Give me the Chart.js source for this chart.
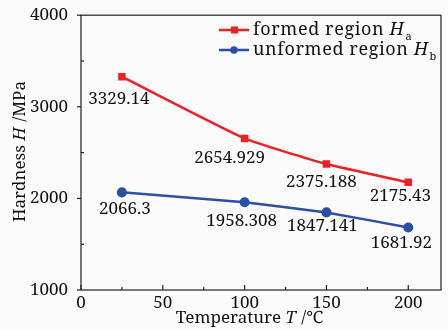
<!DOCTYPE html>
<html>
<head>
<meta charset="utf-8">
<script src="https://cdn.jsdelivr.net/npm/chart.js@4"></script>
<style>
  html, body { margin: 0; padding: 0; background: #fafafa; }
  #wrap { width: 448px; height: 330px; }
</style>
</head>
<body>
<div id="wrap"><canvas id="hardChart"></canvas></div>
<script>
// hardness vs temperature

const temps = [25, 100, 150, 200];
const formedHa = [3329.14, 2654.929, 2375.188, 2175.43];
const unformedHb = [2066.3, 1958.308, 1847.141, 1681.92];
const formedLabels = ['3329.14', '2654.929', '2375.188', '2175.43'];
const unformedLabels = ['2066.3', '1958.308', '1847.141', '1681.92'];
const xTicks = [0, 50, 100, 150, 200];
const yTicks = [1000, 2000, 3000, 4000];

const RED = '#ee2024';
const BLUE = '#2c4fa3';
const FONT = '"Noto Serif", "Liberation Serif", serif';
const FS = 17;

// label offsets from the point (px), by series
const labelOffsets = [
  [[-3, 23], [-15, 20], [-5, 18], [-8, 14]],
  [[3, 17], [-3, 19], [-4, 14], [-7, 16]]
];

// draws text made of [string, italic, sub] pieces starting at x
function richText(ctx, parts, x, y, size) {
  parts.forEach(([s, it, sub]) => {
    const fs = sub ? Math.round(size * 0.6) : size;
    ctx.font = (it ? 'italic ' : '') + fs + 'px ' + FONT;
    ctx.fillText(s, x, sub ? y + 7 : y);
    x += ctx.measureText(s).width + (it ? 1 : 0);
  });
}
function richWidth(ctx, parts, size) {
  let w = 0;
  parts.forEach(([s, it, sub]) => {
    const fs = sub ? Math.round(size * 0.6) : size;
    ctx.font = (it ? 'italic ' : '') + fs + 'px ' + FONT;
    w += ctx.measureText(s).width;
  });
  return w;
}

const decor = {
  id: 'decor',
  beforeDraw(chart) {
    const ctx = chart.ctx;
    ctx.save();
    ctx.fillStyle = '#fafafa';
    ctx.fillRect(0, 0, chart.width, chart.height);
    ctx.restore();
  },
  afterDatasetsDraw(chart) {
    const { ctx, chartArea: a, scales: { x, y } } = chart;
    ctx.save();

    // frame
    ctx.strokeStyle = '#222';
    ctx.lineWidth = 1.2;
    ctx.strokeRect(a.left, a.top, a.right - a.left, a.bottom - a.top);

    // x ticks, inward
    for (let v = 0; v <= 200; v += 25) {
      const px = x.getPixelForValue(v);
      const len = v % 50 === 0 ? 5 : 3;
      ctx.beginPath();
      ctx.moveTo(px, a.bottom);
      ctx.lineTo(px, a.bottom - len);
      ctx.stroke();
    }
    // y ticks: major outward, minor inward
    for (let v = 1000; v <= 4000; v += 500) {
      const py = y.getPixelForValue(v);
      ctx.beginPath();
      if (v % 1000 === 0) { ctx.moveTo(a.left - 4, py); ctx.lineTo(a.left, py); }
      else { ctx.moveTo(a.left, py); ctx.lineTo(a.left + 3, py); }
      ctx.stroke();
    }

    // value labels
    ctx.fillStyle = '#111';
    ctx.font = FS + 'px ' + FONT;
    ctx.textAlign = 'center';
    ctx.textBaseline = 'middle';
    [formedLabels, unformedLabels].forEach((labels, di) => {
      const meta = chart.getDatasetMeta(di);
      meta.data.forEach((pt, i) => {
        const [dx, dy] = labelOffsets[di][i];
        ctx.fillText(labels[i], pt.x + dx, pt.y + dy);
      });
    });

    // legend
    ctx.textAlign = 'left';
    const items = [
      { c: RED, sq: true, parts: [['formed region ', false], ['H', true], ['a', false, true]] },
      { c: BLUE, sq: false, parts: [['unformed region ', false], ['H', true], ['b', false, true]] }
    ];
    items.forEach((it, i) => {
      const ly = 30 + i * 20;
      ctx.strokeStyle = it.c;
      ctx.fillStyle = it.c;
      ctx.lineWidth = 2.5;
      ctx.beginPath();
      ctx.moveTo(219, ly); ctx.lineTo(249, ly);
      ctx.stroke();
      if (it.sq) ctx.fillRect(231, ly - 3.5, 7, 7);
      else { ctx.beginPath(); ctx.arc(234, ly, 3.8, 0, Math.PI * 2); ctx.fill(); }
      ctx.fillStyle = '#111';
      ctx.letterSpacing = '0.6px';
      richText(ctx, it.parts, 253, ly, 18);
      ctx.letterSpacing = '0px';
    });

    // axis titles
    const xt = [['Temperature ', false], ['T', true], [' /\u2103', false]];
    const xw = richWidth(ctx, xt, FS);
    richText(ctx, xt, 249 - xw / 2, 318, FS);

    const yt = [['Hardness ', false], ['H', true], [' /MPa', false]];
    const yw = richWidth(ctx, yt, FS);
    ctx.translate(20, 152);
    ctx.rotate(-Math.PI / 2);
    richText(ctx, yt, -yw / 2, 0, FS);

    ctx.restore();
  }
};

new Chart(document.getElementById('hardChart'), {
  type: 'line',
  data: {
    datasets: [
      {
        label: 'formed region Ha',
        data: temps.map((t, i) => ({ x: t, y: formedHa[i] })),
        borderColor: RED, backgroundColor: RED,
        borderWidth: 2.5, pointStyle: 'rect', pointRadius: 3.5,
        tension: 0.15
      },
      {
        label: 'unformed region Hb',
        data: temps.map((t, i) => ({ x: t, y: unformedHb[i] })),
        borderColor: BLUE, backgroundColor: BLUE,
        borderWidth: 2.5, pointStyle: 'circle', pointRadius: 3.8,
        tension: 0.1
      }
    ]
  },
  options: {
    responsive: true,
    maintainAspectRatio: false,
    animation: false,
    layout: { padding: { top: 15, right: 7, left: 0, bottom: 0 } },
    plugins: { legend: { display: false }, tooltip: { enabled: false } },
    scales: {
      x: {
        type: 'linear', min: 0, max: 220,
        afterBuildTicks: s => { s.ticks = xTicks.map(v => ({ value: v })); },
        afterFit: s => { s.height = 40; },
        grid: { display: false },
        border: { display: false },
        ticks: { color: '#111', padding: -5, font: { family: FONT, size: FS }, callback: v => String(v) }
      },
      y: {
        min: 1000, max: 4000,
        afterBuildTicks: s => { s.ticks = yTicks.map(v => ({ value: v })); },
        afterFit: s => { s.width = 81; },
        grid: { display: false },
        border: { display: false },
        ticks: { color: '#111', padding: 5, font: { family: FONT, size: FS }, callback: v => String(v) }
      }
    }
  },
  plugins: [decor]
});
</script>
</body>
</html>
